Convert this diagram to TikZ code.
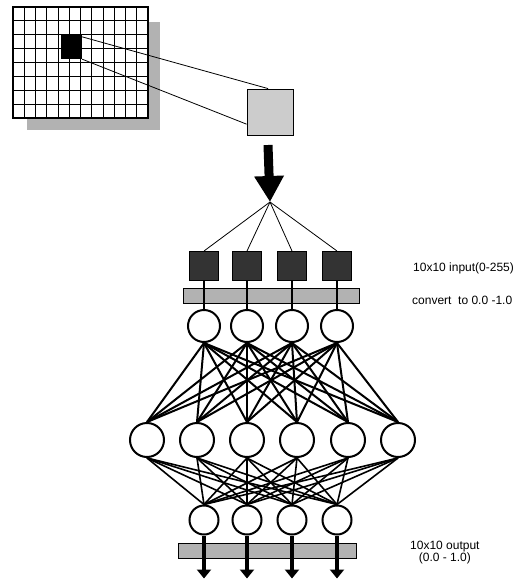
\documentclass[tikz,border=0pt]{standalone}
\usepackage{fontspec}
\setmainfont{Liberation Sans}
\usetikzlibrary{
    arrows.meta,
    calc
}
\tikzset{
    every picture/.style = {
        > = Triangle,
        x = 1pt,
        y = -1pt
    },
    neuron/.style = {
        circle,
        draw,
        line width = 2pt,
        fill = white,
        inner sep = 0pt
    },
    pixel/.style = {
        rectangle,
        draw,
        line width = 1pt,
        fill = black!80,
        minimum size = 29pt,
        inner sep = 0pt
    },
    band/.style = {
        rectangle,
        draw,
        line width = 0.8pt,
        fill = black!30,
        inner sep = 0pt,
        minimum height = 15pt
    },
    caption/.style = {
        anchor = west,
        inner sep = 0pt,
        align = center,
        font = \fontsize{12}{12}\selectfont
    }
}

\begin{document}
\begin{tikzpicture}
    \useasboundingbox (0,0) rectangle (527,579);
    % image grid with its shadow
    \fill[black!30] (27,22) rectangle (160,130);
    \filldraw[fill = white, line width = 1.2pt] (13,7) rectangle (148,118);
    \foreach \i in {1,...,11}
        \draw[line width = 1pt] ({13+11.25*\i},7) -- ++(0,111);
    \foreach \j in {1,...,7}
        \draw[line width = 1pt] (13,{7+13.875*\j}) -- ++(135,0);
    \node[fill = black, minimum width = 21pt, minimum height = 25pt, inner sep = 0pt] (patch) at (71.5,46.5) {};
    \node[draw, line width = 0.8pt, fill = black!20, minimum width = 46pt, minimum height = 46pt, inner sep = 0pt] (window) at (270,112) {};
    \draw[line width = 0.8pt] ($(patch.north east)!0.12!(patch.south east)$) -- ($(window.north west)!0.46!(window.north east)$);
    \draw[line width = 0.8pt] (patch.south east) -- ($(window.north west)!0.76!(window.south west)$);
    % big arrow into the net
    \coordinate (src) at (268,145);
    \coordinate (fan) at (270,202);
    \draw[line width = 9pt, -{Triangle[length = 26pt, width = 28pt]}] (src) -- (fan);
    % input squares, bar and first layer
    \node[band, minimum width = 176pt] (bar) at (271,295.5) {};
    \node[band, minimum width = 178pt] (outbar) at (267.5,550.5) {};
    \foreach \n/\x in {1/204, 2/247, 3/292, 4/337} {
        \node[pixel] (s\n) at (\x,266) {};
        \node[neuron, minimum size = 32pt] (i\n) at (\x,326) {};
        \node[neuron, minimum size = 29pt] (o\n) at (\x,520) {};
        \draw[line width = 0.8pt] (fan) -- (s\n.north);
        \draw[line width = 1.2pt] (s\n) -- (i\n);
    }
    \foreach \n/\x in {1/147, 2/197, 3/247, 4/297, 5/348, 6/398}
        \node[neuron, minimum size = 34pt] (h\n) at (\x,440) {};
    % full connections
    \foreach \a in {1,...,4}
        \foreach \b in {1,...,6} {
            \draw[line width = 2pt] (i\a.south) -- (h\b.north);
            \draw[line width = 1.6pt] (h\b.south) -- (o\a.north);
        }
    % output arrows
    \foreach \n in {1,...,4}
        \draw[line width = 4.5pt, -{Triangle[length = 9pt, width = 14pt]}] (o\n.south) -- ++(0,43);
    % captions
    \node[caption] (inlabel) at (413,268) {10x10 input(0-255)};
    \node[caption] (convlabel) at (412,300) {convert\ \ to 0.0 -1.0};
    \node[caption] (outlabel) at (410,553) {10x10 output\\(0.0 - 1.0)};
\end{tikzpicture}
\end{document}
